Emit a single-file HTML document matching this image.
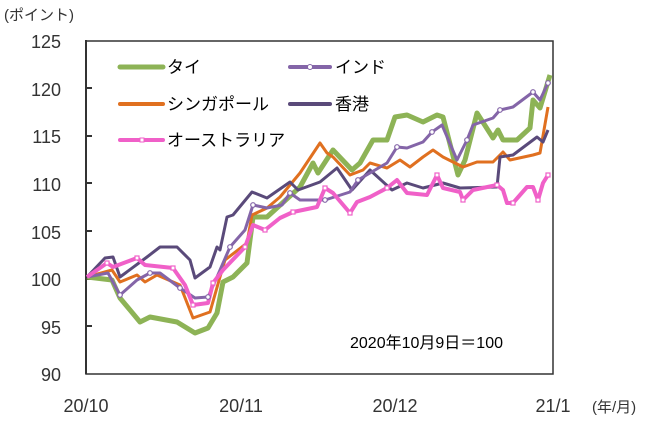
<!DOCTYPE html>
<html><head><meta charset="utf-8"><style>body{margin:0;background:#fff}</style></head><body>
<svg width="659" height="416" xmlns="http://www.w3.org/2000/svg" font-family="Liberation Sans, Noto Sans CJK JP, sans-serif">
<rect x="0" y="0" width="659" height="416" fill="#fff"/>
<rect x="86" y="41" width="467" height="333" fill="none" stroke="#333" stroke-width="1.5"/>
<line x1="86" y1="40" x2="86" y2="374" stroke="#333" stroke-width="2"/>
<g stroke="#333" stroke-width="2">
<line x1="86" y1="88" x2="92" y2="88"/><line x1="86" y1="136" x2="92" y2="136"/><line x1="86" y1="183" x2="92" y2="183"/><line x1="86" y1="231" x2="92" y2="231"/><line x1="86" y1="279" x2="92" y2="279"/><line x1="86" y1="326" x2="92" y2="326"/>
</g>
<g font-size="18" fill="#333" text-anchor="end">
<text x="61" y="48">125</text><text x="61" y="96">120</text><text x="61" y="143">115</text><text x="61" y="191">110</text><text x="61" y="239">105</text><text x="61" y="286">100</text><text x="61" y="334">95</text><text x="61" y="381">90</text>
</g>
<text x="4" y="20" font-size="15" fill="#333">(ポイント)</text>
<g font-size="18" text-anchor="middle" fill="#333">
<text x="86" y="412">20/10</text><text x="241" y="412">20/11</text><text x="395" y="412">20/12</text><text x="553" y="412">21/1</text>
</g>
<text x="592" y="412" font-size="15" fill="#333">(年/月)</text>
<text x="350" y="348" font-size="16">2020年10月9日＝100</text>
<g fill="none" stroke-linejoin="round">
<polyline stroke="#8db356" stroke-width="5" points="87,277 112,280 120,298 140,322 150,317 177,322 195,333 208,328 217,313 223,282 233,277 247,263 253,217 267,217 300,187 313,163 318,173 333,150 352,170 360,163 373,140 387,140 395,117 407,115 423,122 437,115 443,117 458,175 465,160 477,113 493,138 498,130 503,140 517,140 530,128 533,100 540,108 550,75"/>
<polyline stroke="#e07020" stroke-width="3" points="87,277 112,270 120,282 137,275 145,282 157,275 180,285 193,318 210,312 220,277 225,260 247,243 252,215 267,208 280,197 300,173 320,143 327,153 333,157 350,175 363,170 370,163 387,168 400,160 410,167 423,157 433,150 443,157 463,167 477,162 493,162 503,152 510,160 533,155 540,153 548,107"/>
<polyline stroke="#5a4a7a" stroke-width="3" points="87,277 105,258 113,257 120,277 147,257 160,247 177,247 190,260 195,278 210,267 217,247 220,250 227,217 233,215 252,192 267,198 290,182 298,190 320,182 337,168 352,190 370,170 392,190 407,183 423,188 443,183 460,188 497,187 500,157 513,155 537,137 543,142 548,130"/>
<polyline stroke="#8465a8" stroke-width="3" points="87,277 108,273 120,295 137,280 150,273 160,273 180,288 195,298 208,297 217,277 230,247 245,230 253,205 267,208 282,205 290,193 300,200 325,200 350,192 358,180 387,163 397,147 407,148 423,142 432,132 442,125 457,160 467,140 473,125 493,118 500,110 513,107 533,92 540,100 548,83"/>
<polyline stroke="#f060c8" stroke-width="4" points="87,277 107,263 113,267 137,258 145,265 173,268 185,285 193,305 208,303 213,283 223,270 245,247 253,225 265,230 280,218 293,212 317,207 325,188 333,193 350,213 357,202 370,197 387,188 397,180 407,193 427,195 437,175 443,188 460,192 463,200 473,190 497,185 503,190 507,203 513,203 527,187 533,187 538,200 543,183 548,175"/>
</g>
<g fill="#fff" stroke="#8465a8" stroke-width="1.2">
<circle cx="120" cy="295" r="2.3"/><circle cx="150" cy="273" r="2.3"/><circle cx="180" cy="288" r="2.3"/><circle cx="208" cy="297" r="2.3"/><circle cx="230" cy="247" r="2.3"/><circle cx="253" cy="205" r="2.3"/><circle cx="290" cy="193" r="2.3"/><circle cx="325" cy="200" r="2.3"/><circle cx="358" cy="180" r="2.3"/><circle cx="397" cy="147" r="2.3"/><circle cx="432" cy="132" r="2.3"/><circle cx="467" cy="140" r="2.3"/><circle cx="500" cy="110" r="2.3"/><circle cx="533" cy="92" r="2.3"/><circle cx="548" cy="83" r="2.3"/>
</g>
<g fill="#fff" stroke="#f060c8" stroke-width="1.2">
<rect x="105" y="261" width="4" height="4"/><rect x="135" y="256" width="4" height="4"/><rect x="171" y="266" width="4" height="4"/><rect x="191" y="303" width="4" height="4"/><rect x="211" y="281" width="4" height="4"/><rect x="243" y="245" width="4" height="4"/><rect x="263" y="228" width="4" height="4"/><rect x="291" y="210" width="4" height="4"/><rect x="323" y="186" width="4" height="4"/><rect x="348" y="211" width="4" height="4"/><rect x="385" y="186" width="4" height="4"/><rect x="435" y="173" width="4" height="4"/><rect x="461" y="198" width="4" height="4"/><rect x="495" y="183" width="4" height="4"/><rect x="511" y="201" width="4" height="4"/><rect x="536" y="198" width="4" height="4"/><rect x="546" y="173" width="4" height="4"/>
</g>
<g font-size="17" stroke-linecap="round">
<line x1="120" y1="67" x2="163" y2="67" stroke="#8db356" stroke-width="5"/><text x="167" y="73">タイ</text>
<line x1="290" y1="67" x2="330" y2="67" stroke="#8465a8" stroke-width="4"/><circle cx="310" cy="67" r="2.5" fill="#fff" stroke="#8465a8"/><text x="335" y="73">インド</text>
<line x1="120" y1="104" x2="163" y2="104" stroke="#e07020" stroke-width="4"/><text x="167" y="110">シンガポール</text>
<line x1="290" y1="104" x2="330" y2="104" stroke="#5a4a7a" stroke-width="4"/><text x="335" y="110">香港</text>
<line x1="120" y1="140" x2="163" y2="140" stroke="#f060c8" stroke-width="4"/><rect x="140" y="138" width="4" height="4" fill="#fff" stroke="#f060c8"/><text x="167" y="146">オーストラリア</text>
</g>
</svg>
</body></html>
